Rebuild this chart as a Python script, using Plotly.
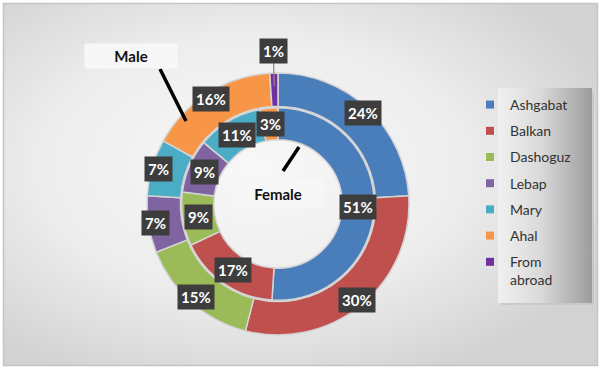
import math
import base64
import plotly.graph_objects as go

# ---------------- data ----------------
regions = ["Ashgabat", "Balkan", "Dashoguz", "Lebap", "Mary", "Ahal", "From abroad"]
male_pct = [24, 30, 15, 7, 7, 16, 1]
female_pct = [51, 17, 9, 9, 11, 3, 0]
colors = ["#4A7EBB", "#C0504D", "#9BBB59", "#8064A2", "#4BACC6", "#F79646", "#7030A0"]
series_names = ["Male", "Female"]

# ---------------- layout constants ----------------
W, H = 600, 371
CX, CY = 278, 204          # centre of the doughnut (px, from top-left)
R = 131                    # outer radius (px)
OUTER_HOLE = 0.745
INNER_R = 0.735 * R
INNER_HOLE = 0.49 * R / INNER_R
FONT = "Lato"

def px(x, y):
    return x / W, 1 - y / H

def domain(r):
    return dict(x=[(CX - r) / W, (CX + r) / W], y=[1 - (CY + r) / H, 1 - (CY - r) / H])

legend_labels = [r.replace(" ", "<br>") for r in regions]

fig = go.Figure()
fig.add_trace(go.Pie(
    labels=regions, values=male_pct, name=series_names[0],
    hole=OUTER_HOLE, sort=False, direction="clockwise", rotation=0,
    marker=dict(colors=colors, line=dict(color="#d4d4d4", width=1.5)),
    textinfo="none", domain=domain(R), showlegend=False,
))
fig.add_trace(go.Pie(
    labels=regions, values=female_pct, name=series_names[1],
    hole=INNER_HOLE, sort=False, direction="clockwise", rotation=0,
    marker=dict(colors=colors, line=dict(color="#d4d4d4", width=1.5)),
    textinfo="none", domain=domain(INNER_R), showlegend=False,
))

# legend entries (one per region, same colours as the slices)
for lab, col in zip(legend_labels, colors):
    fig.add_trace(go.Scatter(
        x=[None], y=[None], mode="markers", name=lab, legendgroup=lab,
        marker=dict(symbol="square", size=8, color=col), showlegend=True, hoverinfo="skip",
    ))

annotations = []
shapes = []

def place(values, radius, small_radius=None):
    total = sum(values)
    cum = 0
    for v in values:
        if v == 0:
            cum += v
            continue
        mid = (cum + v / 2) / total
        cum += v
        th = 2 * math.pi * mid
        r = radius
        if small_radius is not None and v / total < 0.02:
            r = small_radius
            x0, y0 = CX + 1.08 * R * math.sin(th), CY - 1.08 * R * math.cos(th)
            x1, y1 = CX + 0.90 * R * math.sin(th), CY - 0.90 * R * math.cos(th)
            a0, b0 = px(x0, y0)
            a1, b1 = px(x1, y1)
            shapes.append(dict(type="line", xref="paper", yref="paper", x0=a0, y0=b0, x1=a1, y1=b1,
                               line=dict(color="#8a8a8a", width=1.2)))
        x, y = CX + r * math.sin(th), CY - r * math.cos(th)
        ax, ay = px(x, y)
        annotations.append(dict(
            x=ax, y=ay, xref="paper", yref="paper", text=f"<b>{v}%</b>", showarrow=False,
            font=dict(family=FONT, size=15, color="white"),
            bgcolor="#3d3d3d", borderpad=3, xanchor="center", yanchor="middle",
        ))

place(male_pct, 0.95 * R, small_radius=1.17 * R)
place(female_pct, (0.49 * R + INNER_R) / 2)

# series name boxes with their leader lines
for name, (x0, y0, x1, y1), (lx0, ly0, lx1, ly1) in [
    (series_names[0], (85, 44, 177, 68), (160, 69, 186, 121)),
    (series_names[1], (233, 181, 323, 207), (299, 147, 283, 171)),
]:
    cx, cy = px((x0 + x1) / 2, (y0 + y1) / 2)
    annotations.append(dict(x=cx, y=cy, xref="paper", yref="paper", text=f"<b>{name}</b>",
                            showarrow=False, xanchor="center", yanchor="middle",
                            width=x1 - x0, height=y1 - y0, borderpad=0, bgcolor="#f7f7f7",
                            font=dict(family=FONT, size=15, color="#111111")))
    p0 = px(lx0, ly0)
    p1 = px(lx1, ly1)
    shapes.append(dict(type="line", xref="paper", yref="paper", x0=p0[0], y0=p0[1], x1=p1[0], y1=p1[1],
                       line=dict(color="black", width=3.5)))

# background (radial gradient) and legend box (linear gradient) as an SVG image
bg_svg = f'''<svg xmlns="http://www.w3.org/2000/svg" width="{W}" height="{H}" viewBox="0 0 {W} {H}">
<defs>
<radialGradient id="g" cx="0.42" cy="0.45" r="0.65">
<stop offset="0" stop-color="#f8f8f8"/>
<stop offset="0.55" stop-color="#ededed"/>
<stop offset="1" stop-color="#d2d2d2"/>
</radialGradient>
<linearGradient id="l" x1="0" y1="0" x2="1" y2="0">
<stop offset="0" stop-color="#f0f0f0"/>
<stop offset="0.45" stop-color="#dadada"/>
<stop offset="1" stop-color="#9c9c9c"/>
</linearGradient>
</defs>
<rect x="0" y="0" width="{W}" height="{H}" fill="#ffffff"/>
<rect x="3.5" y="3.5" width="594" height="362" fill="url(#g)" stroke="#c4c4c4" stroke-width="1.5"/>
<rect x="501" y="91" width="93" height="214" fill="#bbbbbb" opacity="0.5"/>
<rect x="498" y="88" width="94" height="215" fill="url(#l)"/>
</svg>'''
bg_uri = "data:image/svg+xml;base64," + base64.b64encode(bg_svg.encode()).decode()

lx, ly = px(470, 89)
fig.update_layout(
    width=W, height=H,
    margin=dict(l=0, r=0, t=0, b=0),
    paper_bgcolor="white",
    plot_bgcolor="rgba(0,0,0,0)",
    xaxis=dict(visible=False),
    yaxis=dict(visible=False),
    images=[dict(source=bg_uri, xref="paper", yref="paper", x=0, y=1, sizex=1, sizey=1,
                 sizing="stretch", layer="below", xanchor="left", yanchor="top")],
    shapes=shapes,
    annotations=annotations,
    legend=dict(x=lx, y=ly, xanchor="left", yanchor="top", bgcolor="rgba(0,0,0,0)",
                font=dict(family=FONT, size=14, color="#333333"), tracegroupgap=5,
                valign="top", itemclick=False),
    font=dict(family=FONT),
)

fig.write_html("out.html", post_script="document.body.style.margin='0';",
               config={"displayModeBar": False})
